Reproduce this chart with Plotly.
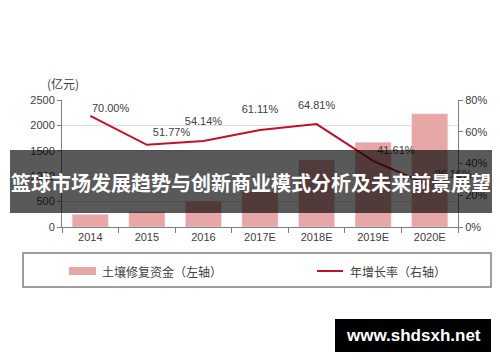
import plotly.graph_objects as go

categories = ["2014", "2015", "2016", "2017E", "2018E", "2019E", "2020E"]
funds = [250, 300, 510, 700, 1320, 1670, 2230]
growth = [70.00, 51.77, 54.14, 61.11, 64.81, 41.61, 26.16]
growth_labels = ["70.00%", "51.77%", "54.14%", "61.11%", "64.81%", "41.61%", "26.16%"]
left_ticks = [0, 500, 1000, 1500, 2000, 2500]
right_ticks = [0, 20, 40, 60, 80]
right_tick_labels = ["0%", "20%", "40%", "60%", "80%"]
bar_name = "土壤修复资金（左轴）"
line_name = "年增长率（右轴）"
unit_label = "(亿元)"
banner_text = "篮球市场发展趋势与创新商业模式分析及未来前景展望"
watermark = "www.shdsxh.net"

# label placement styles (invisible marker sizes push text away from the line)
label_positions = ["top right", "top right", "top center", "top center", "top center",
                   "top right", "top right"]
label_pad = [1, 8, 20, 21, 18, 5, 6]

BAR_COLOR = "#E8A7A7"
LINE_COLOR = "#C0102A"
TXT = "#404040"
LAT = "Liberation Sans, Arial, sans-serif"
CJK = "Noto Sans CJK SC, sans-serif"

# page body adds an 8px offset; figure sized to fill the rest of the 500x362 window
OFF = 8
W, H = 500 - OFF, 362 - OFF
# plot area in screen pixels: x 62..458, y 100..227
SX0, SX1, SY0, SY1 = 62, 458, 100, 227
L, T = SX0 - OFF, SY0 - OFF
R, B = W - (SX1 - OFF), H - (SY1 - OFF)
PW, PH = SX1 - SX0, SY1 - SY0


def px(x):
    return (x - SX0) / PW


def py(y):
    return (SY1 - y) / PH


fig = go.Figure()
fig.add_trace(go.Bar(x=categories, y=funds, name=bar_name, marker_color=BAR_COLOR,
                     width=0.64, yaxis="y", showlegend=False))
fig.add_trace(go.Scatter(x=categories, y=growth, name=line_name, mode="lines+markers+text",
                         text=growth_labels, textposition=label_positions,
                         textfont=dict(size=11, color=TXT, family=LAT),
                         marker=dict(size=label_pad, opacity=0, color=LINE_COLOR),
                         line=dict(color=LINE_COLOR, width=2), yaxis="y2",
                         showlegend=False, cliponaxis=False))

shapes = []
annotations = []

# banner overlay
shapes.append(dict(type="rect", xref="paper", yref="paper", x0=px(10), x1=px(492),
                   y0=py(213), y1=py(150), fillcolor="rgba(0,0,0,0.65)",
                   line=dict(width=0), layer="above"))
annotations.append(dict(xref="paper", yref="paper", x=px(251), y=py(182), text=banner_text,
                        showarrow=False, xanchor="center", yanchor="middle",
                        font=dict(size=20, color="white", family=CJK, weight="bold")))

# legend box
shapes.append(dict(type="rect", xref="paper", yref="paper", x0=px(23), x1=px(491),
                   y0=py(287), y1=py(253), fillcolor="rgba(0,0,0,0)",
                   line=dict(color="#7f7f7f", width=1.5), layer="above"))
shapes.append(dict(type="rect", xref="paper", yref="paper", x0=px(69), x1=px(96),
                   y0=py(275), y1=py(267), fillcolor=BAR_COLOR, line=dict(width=0),
                   layer="above"))
shapes.append(dict(type="line", xref="paper", yref="paper", x0=px(317), x1=px(343),
                   y0=py(271), y1=py(271), line=dict(color=LINE_COLOR, width=2),
                   layer="above"))
annotations.append(dict(xref="paper", yref="paper", x=px(100), y=py(271), text=bar_name,
                        showarrow=False, xanchor="left", yanchor="middle",
                        font=dict(size=12, color=TXT, family=CJK)))
annotations.append(dict(xref="paper", yref="paper", x=px(348), y=py(271), text=line_name,
                        showarrow=False, xanchor="left", yanchor="middle",
                        font=dict(size=12, color=TXT, family=CJK)))

# unit label
annotations.append(dict(xref="paper", yref="paper", x=px(63), y=py(83), text=unit_label,
                        showarrow=False, xanchor="center", yanchor="middle",
                        font=dict(size=12, color=TXT, family=CJK)))

# watermark
shapes.append(dict(type="rect", xref="paper", yref="paper", x0=px(335), x1=px(491),
                   y0=py(352), y1=py(319), fillcolor="black", line=dict(width=0),
                   layer="above"))
annotations.append(dict(xref="paper", yref="paper", x=px(413), y=py(335.5), text=watermark,
                        showarrow=False, xanchor="center", yanchor="middle",
                        font=dict(size=17, color="white", family=LAT, weight="bold")))

fig.update_layout(
    width=W, height=H,
    margin=dict(l=L, r=R, t=T, b=B, pad=0),
    paper_bgcolor="white", plot_bgcolor="white",
    xaxis=dict(type="category", range=[-0.5, 6.5], showline=True, linecolor="#808080",
               linewidth=1, ticks="outside", tickson="boundaries", ticklen=5,
               tickcolor="#808080", tickfont=dict(size=11, color=TXT, family=LAT),
               showgrid=False, zeroline=False),
    yaxis=dict(range=[0, 2500], tickvals=left_ticks, showline=True, linecolor="#808080",
               linewidth=1, ticks="outside", ticklen=4, tickcolor="#808080",
               tickfont=dict(size=11, color=TXT, family=LAT), showgrid=True,
               gridcolor="#e0e0e0", gridwidth=1, zeroline=False),
    yaxis2=dict(range=[0, 80], tickvals=right_ticks, ticktext=right_tick_labels,
                overlaying="y", side="right", showline=True, linecolor="#808080",
                linewidth=1, ticks="outside", ticklen=4, tickcolor="#808080",
                tickfont=dict(size=11, color=TXT, family=LAT), showgrid=False,
                zeroline=False),
    shapes=shapes, annotations=annotations,
    showlegend=False,
)

fig.write_html("out.html")
